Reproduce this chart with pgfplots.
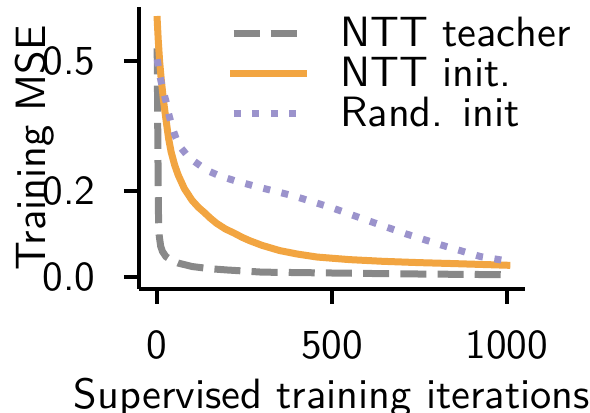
\documentclass[border=0pt]{standalone}
\usepackage{fontspec}
\usepackage{pgfplots}
\pgfplotsset{compat=1.18}
\renewcommand\familydefault{\sfdefault}
\definecolor{cgray}{HTML}{888888}
\definecolor{corange}{HTML}{F2A541}
\definecolor{cpurple}{HTML}{9B93CC}
\newcommand\ft{\fontsize{10.3}{12.5}\selectfont}
\newcommand\fs{\fontsize{10.6}{12.5}\selectfont}
\newcommand\fl{\fontsize{10.6}{12.5}\selectfont}
\begin{document}
\begin{tikzpicture}
\useasboundingbox (-34.75pt,-31pt) rectangle (112.75pt,72.25pt);
\begin{axis}[
 at={(0,0)}, anchor=south west,
 scale only axis, width=96.5pt, height=70.5pt,
 xmin=-52, xmax=1052, ymin=-0.027, ymax=0.626,
 axis x line*=bottom, axis y line*=left,
 axis line style={line width=1pt, -},
 xtick={0,500,1000}, xticklabels={0,500,1000},
 ytick={0,0.2,0.5}, yticklabels={0.0,0.2,0.5},
 tick align=outside, major tick length=3.75pt,
 tick style={black, line width=1pt},
 xticklabel style={font=\ft, inner sep=0pt, yshift=-6.5pt},
 yticklabel style={font=\ft, inner sep=0pt, xshift=-7pt},
 xlabel={Supervised training iterations},
 ylabel={Training MSE},
 xlabel style={font=\fs, inner sep=0pt},
 ylabel style={font=\fs, inner sep=0pt},
 xlabel shift=4.4pt, ylabel shift=-3pt,
 legend cell align=left,
 legend style={draw=none, fill=none, font=\fl, inner sep=0pt, outer sep=0pt,
   at={(axis description cs:0.2358,0.962)}, anchor=north west,
   row sep=2.8pt,
   nodes={inner sep=0pt, text height=7.2pt, text depth=0pt},
   cells={anchor=base west},
   /tikz/every odd column/.append style={column sep=8.3pt}},
 legend image code/.code={\draw[#1] (0pt,3.3pt) -- (17.5pt,3.3pt);},
]
\addplot[cgray, line width=1.75pt, dash pattern=on 6.5pt off 2.8pt] coordinates {
(0,0.53)(1,0.42)(2,0.3)(3,0.2)(4,0.13)(6,0.095)(10,0.072)(15,0.06)(25,0.048)(40,0.04)(60,0.033)(100,0.025)(150,0.02)(200,0.017)(300,0.012)(400,0.011)(500,0.01)(700,0.008)(1000,0.006)};
\addlegendentry{NTT teacher}
\addplot[corange, line width=1.75pt, line cap=rect] coordinates {
(0,0.597)(3,0.55)(7,0.5)(12,0.455)(18,0.41)(26,0.36)(33,0.32)(40,0.29)(50,0.26)(60,0.237)(78,0.205)(100,0.178)(118,0.162)(135,0.15)(152,0.137)(170,0.125)(195,0.112)(221,0.102)(242,0.093)(264,0.085)(300,0.074)(350,0.062)(400,0.054)(457,0.047)(550,0.041)(647,0.037)(750,0.034)(839,0.032)(1000,0.028)};
\addlegendentry{NTT init.}
\addplot[cpurple, line width=1.75pt, dash pattern=on 1.75pt off 2.9pt] coordinates {
(0,0.505)(5,0.48)(11,0.454)(18,0.43)(26,0.405)(34,0.375)(44,0.345)(54,0.322)(68,0.3)(83,0.285)(100,0.272)(126,0.257)(150,0.245)(178,0.235)(221,0.224)(284,0.21)(388,0.189)(500,0.161)(604,0.131)(710,0.101)(816,0.074)(925,0.048)(1000,0.038)};
\addlegendentry{Rand. init}
\end{axis}
\end{tikzpicture}
\end{document}
